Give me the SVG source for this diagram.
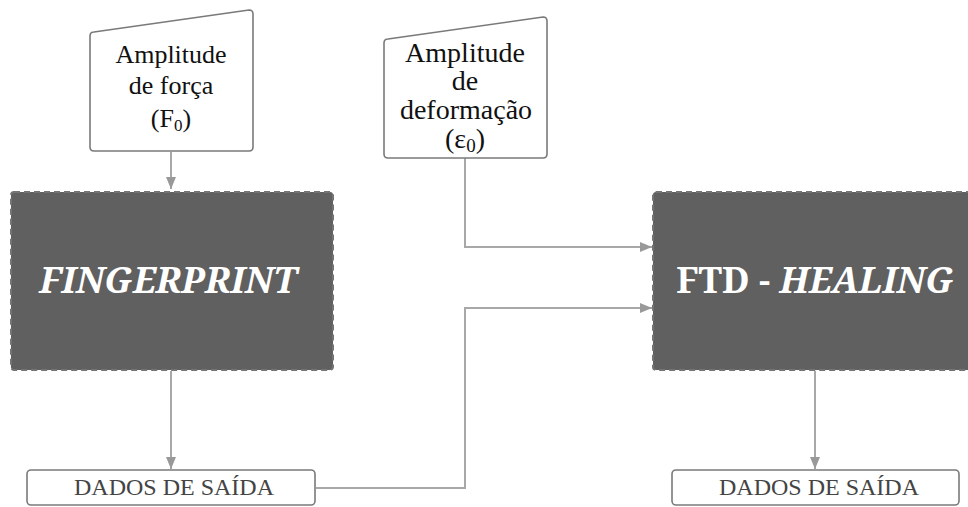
<svg xmlns="http://www.w3.org/2000/svg" width="968" height="507" viewBox="0 0 968 507">
  <style>
    .input { fill: #ffffff; stroke: #7a7a7a; stroke-width: 1.6; stroke-linejoin: round; }
    .process { fill: #606060; stroke: #747474; stroke-width: 2; stroke-dasharray: 6 4; }
    .output { fill: #ffffff; stroke: #7a7a7a; stroke-width: 1.6; }
    .in-text { font-family: 'Liberation Serif', 'Times New Roman', serif; fill: #111111; text-anchor: middle; }
    .proc-text { font-family: 'Noto Serif', 'DejaVu Serif', serif; font-weight: bold; font-size: 36px; fill: #ffffff; text-anchor: middle; }
    .out-text { font-family: 'Liberation Serif', 'Times New Roman', serif; font-size: 24px; fill: #444444; text-anchor: middle; }
    .link { fill: none; stroke: #a8a8a8; stroke-width: 2; }
  </style>
  <defs>
    <marker id="arrow" viewBox="0 0 12 10" refX="12" refY="5" markerWidth="12" markerHeight="10" markerUnits="userSpaceOnUse" orient="auto">
      <path d="M0,0 L12,5 L0,10 Z" fill="#999999"/>
    </marker>
  </defs>

  <rect width="968" height="507" fill="#ffffff"/>

  <!-- connectors -->
  <g id="connectors">
    <path class="link" d="M171,152 V189" marker-end="url(#arrow)"/>
    <path class="link" d="M465,158 V247 H652" marker-end="url(#arrow)"/>
    <path class="link" d="M316,488 H465 V308 H652" marker-end="url(#arrow)"/>
    <path class="link" d="M171,371 V469" marker-end="url(#arrow)"/>
    <path class="link" d="M815,371 V469" marker-end="url(#arrow)"/>
  </g>

  <!-- manual input: force amplitude -->
  <g id="input-forca">
    <path class="input" d="M94,32 L249,10 Q253,10 253,14 V147 Q253,151 249,151 H94 Q90,151 90,147 V36 Q90,32 94,32 Z"/>
    <text class="in-text" font-size="26" x="171" y="63">Amplitude</text>
    <text class="in-text" font-size="26" x="171" y="94">de força</text>
    <text class="in-text" font-size="26" x="171" y="127">(F<tspan font-size="17" dy="4">0</tspan><tspan dy="-4">)</tspan></text>
  </g>

  <!-- manual input: strain amplitude -->
  <g id="input-deformacao">
    <path class="input" d="M388,39 L543,17 Q547,17 547,21 V154 Q547,158 543,158 H388 Q384,158 384,154 V43 Q384,39 388,39 Z"/>
    <text class="in-text" font-size="28" x="465" y="62">Amplitude</text>
    <text class="in-text" font-size="28" x="465" y="90">de</text>
    <text class="in-text" font-size="28" x="466" y="119">deformação</text>
    <text class="in-text" font-size="28" x="465" y="148">(ε<tspan font-size="19" dy="4">0</tspan><tspan dy="-4">)</tspan></text>
  </g>

  <!-- process: fingerprint -->
  <g id="fingerprint">
    <rect class="process" x="11" y="192" width="322" height="178" rx="3"/>
    <text class="proc-text" x="168" y="293" font-style="italic">FINGERPRINT</text>
  </g>

  <!-- process: FTD healing -->
  <g id="ftd-healing">
    <rect class="process" x="653" y="192" width="325" height="178" rx="3"/>
    <text class="proc-text" x="815" y="293">FTD - <tspan font-style="italic">HEALING</tspan></text>
  </g>

  <!-- outputs -->
  <g id="saida-fingerprint">
    <rect class="output" x="27" y="470" width="288" height="35" rx="4"/>
    <text class="out-text" x="174" y="495">DADOS DE SAÍDA</text>
  </g>

  <g id="saida-healing">
    <rect class="output" x="672" y="470" width="287" height="35" rx="4"/>
    <text class="out-text" x="819" y="495">DADOS DE SAÍDA</text>
  </g>
</svg>
